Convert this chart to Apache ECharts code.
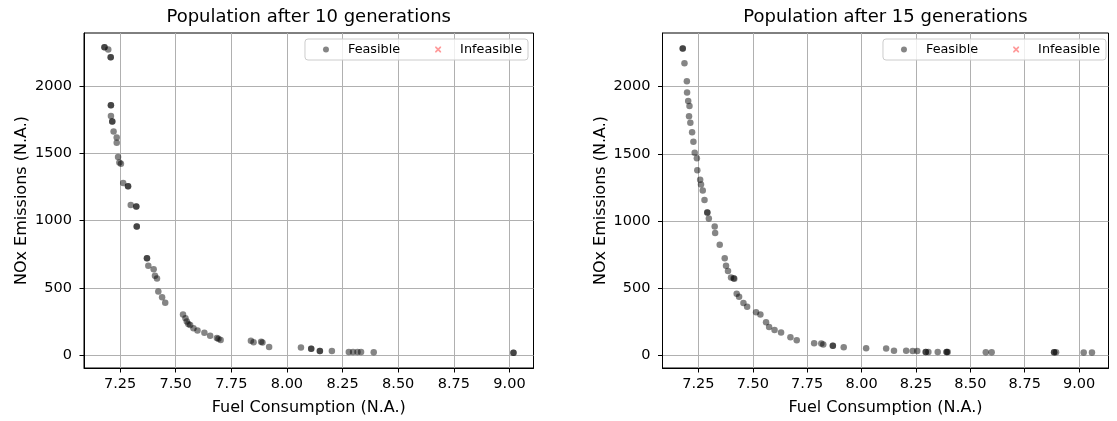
<!DOCTYPE html>
<html>
<head>
<meta charset="utf-8">
<script src="https://cdn.jsdelivr.net/npm/echarts@6/dist/echarts.min.js"></script>
<style>
html,body{margin:0;padding:0;background:#fff;}
#chart{width:1117px;height:421px;}
</style>
</head>
<body>
<div id="chart"></div>
<script>
// ---- data ----
const titles = ['Population after 10 generations', 'Population after 15 generations'];
const xLabel = 'Fuel Consumption (N.A.)';
const yLabel = 'NOx Emissions (N.A.)';
const legendNames = ['Feasible', 'Infeasible'];
const xTicks = [7.25, 7.5, 7.75, 8.0, 8.25, 8.5, 8.75, 9.0];
const yTicks = [0, 500, 1000, 1500, 2000];

// generation 10 population [fuel, NOx]; repeated entries are overlapping individuals
const gen10Feasible = [
  [7.180, 2287], [7.180, 2287], [7.197, 2270], [7.208, 2213], [7.208, 2213],
  [7.209, 1856], [7.209, 1856], [7.209, 1777], [7.215, 1736], [7.215, 1736],
  [7.221, 1662], [7.235, 1617], [7.235, 1578], [7.241, 1472], [7.247, 1432],
  [7.254, 1422], [7.264, 1280], [7.286, 1256], [7.286, 1256], [7.298, 1117],
  [7.323, 1105], [7.323, 1105], [7.325, 957], [7.325, 957], [7.371, 721],
  [7.371, 721], [7.377, 665], [7.401, 640], [7.407, 591], [7.416, 571],
  [7.422, 473], [7.439, 431], [7.453, 391], [7.533, 303], [7.544, 276],
  [7.550, 251], [7.557, 233], [7.565, 226], [7.580, 202], [7.598, 185],
  [7.629, 167], [7.655, 145], [7.685, 128], [7.692, 123], [7.702, 113],
  [7.838, 108], [7.850, 98], [7.884, 100], [7.890, 95], [7.920, 61],
  [8.063, 59], [8.109, 49], [8.109, 49], [8.148, 32], [8.148, 32],
  [8.202, 32], [8.278, 24], [8.297, 24], [8.317, 24], [8.333, 24],
  [8.390, 22], [9.018, 19], [9.018, 19]
];
const gen10Infeasible = [];

// generation 15 population [fuel, NOx]
const gen15Feasible = [
  [7.178, 2284], [7.178, 2284], [7.186, 2175], [7.197, 2040], [7.198, 1956],
  [7.203, 1894], [7.209, 1857], [7.207, 1779], [7.213, 1732], [7.221, 1661],
  [7.227, 1589], [7.233, 1508], [7.243, 1466], [7.245, 1377], [7.258, 1306],
  [7.262, 1271], [7.270, 1227], [7.278, 1155], [7.291, 1062], [7.291, 1062],
  [7.298, 1018], [7.325, 959], [7.327, 909], [7.348, 823], [7.371, 722],
  [7.377, 665], [7.386, 626], [7.400, 579], [7.412, 572], [7.415, 569],
  [7.426, 458], [7.437, 434], [7.457, 389], [7.474, 360], [7.515, 320],
  [7.535, 303], [7.561, 244], [7.575, 209], [7.600, 187], [7.630, 168],
  [7.673, 133], [7.702, 111], [7.782, 89], [7.815, 86], [7.824, 79],
  [7.868, 69], [7.868, 69], [7.918, 59], [8.021, 52], [8.113, 50],
  [8.149, 32], [8.205, 32], [8.235, 30], [8.256, 30], [8.295, 24],
  [8.295, 24], [8.307, 24], [8.350, 24], [8.391, 24], [8.391, 24],
  [8.396, 24], [8.571, 22], [8.598, 22], [8.885, 22], [8.885, 22],
  [8.894, 22], [9.021, 20], [9.059, 20]
];
const gen15Infeasible = [];

// ---- chart ----
const FONT = 'DejaVu Sans';
const xIcon = 'path://M0,0 L2,0 L5,3 L8,0 L10,0 L10,2 L7,5 L10,8 L10,10 L8,10 L5,7 L2,10 L0,10 L0,8 L3,5 L0,2 Z';
const grids = [
  {left: 84, top: 33, width: 449.5, height: 337},
  {left: 662.5, top: 33, width: 446, height: 337}
];
const xRanges = [[7.088, 9.108], [7.085, 9.135]];
const yRanges = [[-94, 2393], [-96, 2400]];
const titleCenters = [308.7, 885.5];
const legendRights = [589, 11];

function xAxisFor(i) {
  return {
    type: 'value', gridIndex: i, min: xRanges[i][0], max: xRanges[i][1],
    name: xLabel, nameLocation: 'middle', nameGap: 32,
    nameTextStyle: {fontSize: 16, color: '#000', fontFamily: FONT},
    axisLine: {show: true, onZero: false, lineStyle: {color: '#000', width: 1}},
    axisTick: {show: true, length: 4.5, customValues: xTicks, lineStyle: {color: '#000', width: 1}},
    axisLabel: {customValues: xTicks, formatter: v => v.toFixed(2), color: '#000', fontSize: 14.5, fontFamily: FONT, margin: 9},
    splitLine: {show: true, lineStyle: {color: '#b0b0b0', width: 1}}
  };
}
function yAxisFor(i) {
  return {
    type: 'value', gridIndex: i, min: yRanges[i][0], max: yRanges[i][1],
    name: yLabel, nameLocation: 'middle', nameGap: 54, nameRotate: 90,
    nameTextStyle: {fontSize: 16, color: '#000', fontFamily: FONT},
    axisLine: {show: true, onZero: false, lineStyle: {color: '#000', width: 1}},
    axisTick: {show: true, length: 4.5, customValues: yTicks, lineStyle: {color: '#000', width: 1}},
    axisLabel: {customValues: yTicks, formatter: v => String(Math.round(v)), color: '#000', fontSize: 14.5, fontFamily: FONT, margin: 12},
    splitLine: {show: true, lineStyle: {color: '#b0b0b0', width: 1}}
  };
}
function legendFor(i) {
  return {
    right: legendRights[i], top: 39, orient: 'horizontal',
    itemWidth: 6, itemHeight: 6, itemGap: 35,
    padding: [4, 6, 4, 18],
    borderColor: '#cccccc', borderWidth: 1, borderRadius: 3,
    backgroundColor: 'rgba(255,255,255,0.8)',
    textStyle: {fontSize: 12.8, color: '#000', fontFamily: FONT, padding: [0, 0, 0, 14]},
    selectedMode: false,
    data: [{name: legendNames[0], icon: 'circle'}, {name: legendNames[1], icon: xIcon}]
  };
}
const feasible = [gen10Feasible, gen15Feasible];
const infeasible = [gen10Infeasible, gen15Infeasible];
const series = [];
[0, 1].forEach(i => {
  series.push({
    name: legendNames[0], type: 'scatter', xAxisIndex: i, yAxisIndex: i,
    symbol: 'circle', symbolSize: 6.5, data: feasible[i],
    itemStyle: {color: 'rgba(0,0,0,0.6)'}
  });
  series.push({
    name: legendNames[1], type: 'scatter', xAxisIndex: i, yAxisIndex: i,
    symbol: xIcon, symbolSize: 6, data: infeasible[i],
    itemStyle: {color: 'rgba(255,0,0,0.5)'}
  });
});

const chart = echarts.init(document.getElementById('chart'), null, {renderer: 'canvas'});
chart.setOption({
  animation: false,
  backgroundColor: '#fff',
  textStyle: {fontFamily: FONT},
  title: [0, 1].map(i => ({
    text: titles[i], left: titleCenters[i], top: 8, textAlign: 'center', padding: 0,
    textStyle: {fontSize: 18, fontWeight: 'normal', color: '#000', fontFamily: FONT}
  })),
  legend: [legendFor(0), legendFor(1)],
  grid: grids.map(g => Object.assign({show: true, borderColor: '#000', borderWidth: 1, backgroundColor: 'transparent'}, g)),
  xAxis: [xAxisFor(0), xAxisFor(1)],
  yAxis: [yAxisFor(0), yAxisFor(1)],
  series: series
});
</script>
</body>
</html>
